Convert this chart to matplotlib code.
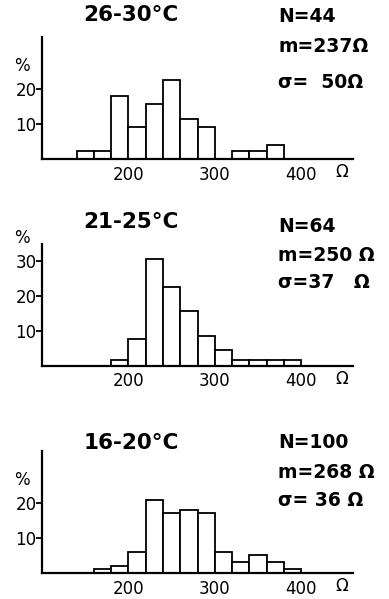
import matplotlib
matplotlib.use("Agg")
import matplotlib.pyplot as plt

# resistance histograms (20 ohm bins), percent of cells per bin
bin_width = 20

temps = ["26-30°C", "21-25°C", "16-20°C"]
n_text = ["N=44", "N=64", "N=100"]
m_text = ["m=237Ω", "m=250 Ω", "m=268 Ω"]
s_text = ["σ=  50Ω", "σ=37   Ω", "σ= 36 Ω"]

# left edge of each bin and its percentage
bins_hot = [140, 160, 180, 200, 220, 240, 260, 280, 300, 320, 340, 360]
pct_hot = [2.3, 2.3, 18.2, 9.1, 15.9, 22.7, 11.4, 9.1, 0, 2.3, 2.3, 4.0]

bins_mid = [180, 200, 220, 240, 260, 280, 300, 320, 340, 360, 380]
pct_mid = [1.5, 7.5, 30.5, 22.5, 15.6, 8.5, 4.5, 1.5, 1.5, 1.5, 1.5]

bins_cool = [160, 180, 200, 220, 240, 260, 280, 300, 320, 340, 360, 380]
pct_cool = [1, 2, 6, 21, 17, 18, 17, 6, 3, 5, 3, 1]

yticks_hot = [10, 20]
yticks_mid = [10, 20, 30]
yticks_cool = [10, 20]
xticks = [200, 300, 400]

W, H = 389, 599


def fpos(x, y):
    # pixel position (from top-left) -> figure fraction
    return x / W, 1 - y / H


fig = plt.figure(figsize=(W / 100, H / 100), dpi=100)
fig.patch.set_facecolor("white")

panels = [
    (bins_hot, pct_hot, yticks_hot, 159.0, 15, [17, 47, 82]),
    (bins_mid, pct_mid, yticks_mid, 365.5, 222, [227, 255, 283]),
    (bins_cool, pct_cool, yticks_cool, 572.7, 443, [443, 473, 500]),
]

for i, (bins, pct, yt, base_px, title_y, stat_y) in enumerate(panels):
    left, bottom = fpos(42, base_px)
    ax = fig.add_axes([left, bottom, 311 / W, 122 / H])
    ax.bar(bins, pct, width=bin_width, align="edge", color="white",
           edgecolor="black", linewidth=1.3, zorder=2)
    ax.set_xlim(100, 460)
    ax.set_ylim(0, 35)
    for s in ["top", "right"]:
        ax.spines[s].set_visible(False)
    for s in ["left", "bottom"]:
        ax.spines[s].set_linewidth(1.6)
        ax.spines[s].set_zorder(3)
    ax.set_yticks(yt)
    ax.set_yticklabels([str(v) for v in yt], fontsize=12)
    ax.tick_params(axis="y", length=4, width=1.3, pad=0)
    ax.set_xticks(xticks)
    ax.set_xticklabels([str(v) for v in xticks], fontsize=12)
    ax.tick_params(axis="x", length=0, pad=5)

    # percent sign above the y axis
    top_tick_px = base_px - yt[-1] * 122 / 35
    fig.text(*fpos(22, top_tick_px - 23), "%", fontsize=12,
             ha="center", va="center")
    # unit label after the x tick labels
    fig.text(*fpos(342, base_px + 13), "Ω", fontsize=12,
             ha="center", va="center")

    fig.text(*fpos(131, title_y), temps[i], fontsize=15.5,
             fontweight="bold", ha="center", va="center")
    fig.text(*fpos(278, stat_y[0]), n_text[i], fontsize=13.5,
             fontweight="bold", ha="left", va="center")
    fig.text(*fpos(278, stat_y[1]), m_text[i], fontsize=13.5,
             fontweight="bold", ha="left", va="center")
    fig.text(*fpos(278, stat_y[2]), s_text[i], fontsize=13.5,
             fontweight="bold", ha="left", va="center")

fig.savefig("out.png", dpi=100, facecolor="white")
